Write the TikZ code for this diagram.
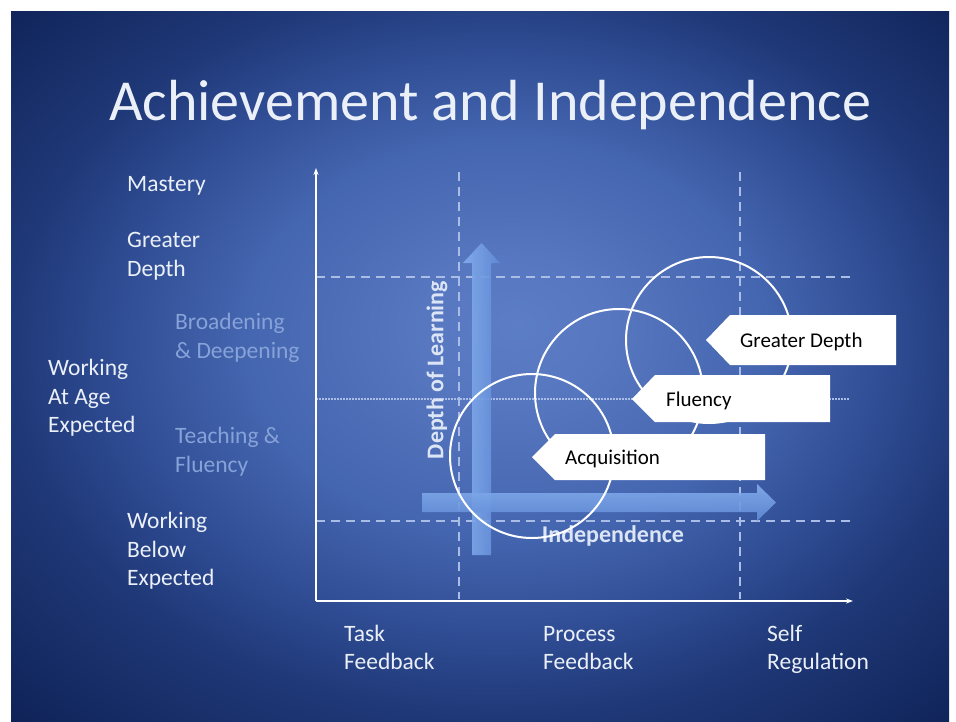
\documentclass[tikz,border=0pt]{standalone}
\usepackage{fontspec}
\setmainfont{Carlito}
\usetikzlibrary{arrows.meta}
\definecolor{bgin}{HTML}{5C7EC6}
\definecolor{bgin2}{HTML}{5777C0}
\definecolor{bgmid}{HTML}{4465AF}
\definecolor{bgdark}{HTML}{2E4B92}
\definecolor{bgout}{HTML}{1F3877}
\definecolor{bgcorner}{HTML}{0F2358}
\definecolor{labw}{HTML}{EBF0F8}
\definecolor{labfaint}{HTML}{86A2D8}
\definecolor{gridc}{HTML}{A9BDE6}
\definecolor{arrA}{HTML}{86AFEE}
\definecolor{arrB}{HTML}{5F8AD6}
\definecolor{boldlab}{HTML}{DCE5F5}
\pgfdeclareradialshading{slidebg}{\pgfpoint{2bp}{3bp}}{color(0bp)=(bgin); color(5bp)=(bgin2); color(14bp)=(bgmid); color(21bp)=(bgdark); color(26bp)=(bgout); color(36bp)=(bgcorner); color(45bp)=(bgcorner)}
\tikzset{
  lab/.style={anchor=north west, inner sep=0pt, align=left, text=labw, font=\fontsize{23.5}{28.5}\selectfont},
  labf/.style={lab, text=labfaint},
  axisline/.style={draw=white, line width=1.6pt, -{Stealth[length=7pt,width=5pt]}},
  gridline/.style={draw=gridc, line width=1.3pt, dash pattern=on 9pt off 6pt},
  gridfine/.style={draw=gridc, line width=1.3pt, dash pattern=on 1.5pt off 1.5pt},
  ring/.style={draw=white, line width=2pt},
  callout/.style={fill=white},
  callouttext/.style={anchor=base west, inner sep=0pt, text=black, font=\fontsize{21}{25}\selectfont},
  boldtext/.style={inner sep=0pt, text=boldlab, font=\fontsize{24}{28}\selectfont\bfseries}
}
\begin{document}
\begin{tikzpicture}[x=1pt,y=-1pt]
\useasboundingbox (0,0) rectangle (956,721);
\fill[white] (0,0) rectangle (956,721);
\shade[shading=slidebg] (11,11) rectangle (949,721);

% title
\node[anchor=base, inner sep=0pt, text=labw, font=\fontsize{58}{70}\selectfont] (title) at (490,120) {Achievement and Independence};

% grid lines
\coordinate (h1a) at (316,277); \coordinate (h1b) at (850,277);
\coordinate (h2a) at (316,399); \coordinate (h2b) at (850,399);
\coordinate (h3a) at (316,521); \coordinate (h3b) at (850,521);
\coordinate (v1a) at (459,172); \coordinate (v1b) at (459,599);
\coordinate (v2a) at (740,172); \coordinate (v2b) at (740,599);
\draw[gridline] (h1a) -- (h1b);
\draw[gridfine] (h2a) -- (h2b);
\draw[gridline] (h3a) -- (h3b);
\draw[gridline] (v1a) -- (v1b);
\draw[gridline] (v2a) -- (v2b);

% axes
\coordinate (O) at (316,601);
\coordinate (Ytop) at (316,168);
\coordinate (Xend) at (853,601);
\draw[axisline] (O) -- (Ytop);
\draw[axisline] (O) -- (Xend);

% blue block arrows
\shade[left color=arrA, right color=arrB, opacity=0.9]
  (472,555) -- (472,263) -- (463,263) -- (481.5,243) -- (500,263) -- (491,263) -- (491,555) -- cycle;
\shade[top color=arrA, bottom color=arrB, opacity=0.9]
  (422,493) -- (757,493) -- (757,484) -- (776,502.5) -- (757,521) -- (757,512) -- (422,512) -- cycle;

\node[boldtext, rotate=90] (depth) at (437,370) {Depth of Learning};
\node[boldtext, anchor=base] (indep) at (613,542) {Independence};

% circles
\draw[ring] (532,456) circle[radius=82];
\draw[ring] (619,393) circle[radius=84];
\draw[ring] (709,340) circle[radius=83];

% callouts
\fill[callout] (532,457) -- (555,434) -- (765,434) -- (765,480) -- (555,480) -- cycle;
\fill[callout] (632,399) -- (655,375) -- (830,375) -- (830,422) -- (655,422) -- cycle;
\fill[callout] (706,340) -- (730,315) -- (896,315) -- (896,365) -- (730,365) -- cycle;
\node[callouttext] (acq) at (565,464) {Acquisition};
\node[callouttext] (flu) at (666,406) {Fluency};
\node[callouttext] (gd) at (740,347) {Greater Depth};

% left labels
\node[lab] (mastery) at (127,171) {\strut Mastery};
\node[lab] (greater) at (127,227.5) {\strut Greater\\Depth};
\node[labf] (broad) at (175,309.5) {\strut Broadening\\\& Deepening};
\node[lab] (wae) at (48,355.5) {\strut Working\\At Age\\Expected};
\node[labf] (teach) at (175,423.5) {\strut Teaching \&\\Fluency};
\node[lab] (wbe) at (127,508.5) {\strut Working\\Below\\Expected};

% bottom labels
\node[lab] (task) at (344,621) {\strut Task\\Feedback};
\node[lab] (proc) at (543,621) {\strut Process\\Feedback};
\node[lab] (selfreg) at (767,621) {\strut Self\\Regulation};
\end{tikzpicture}
\end{document}
